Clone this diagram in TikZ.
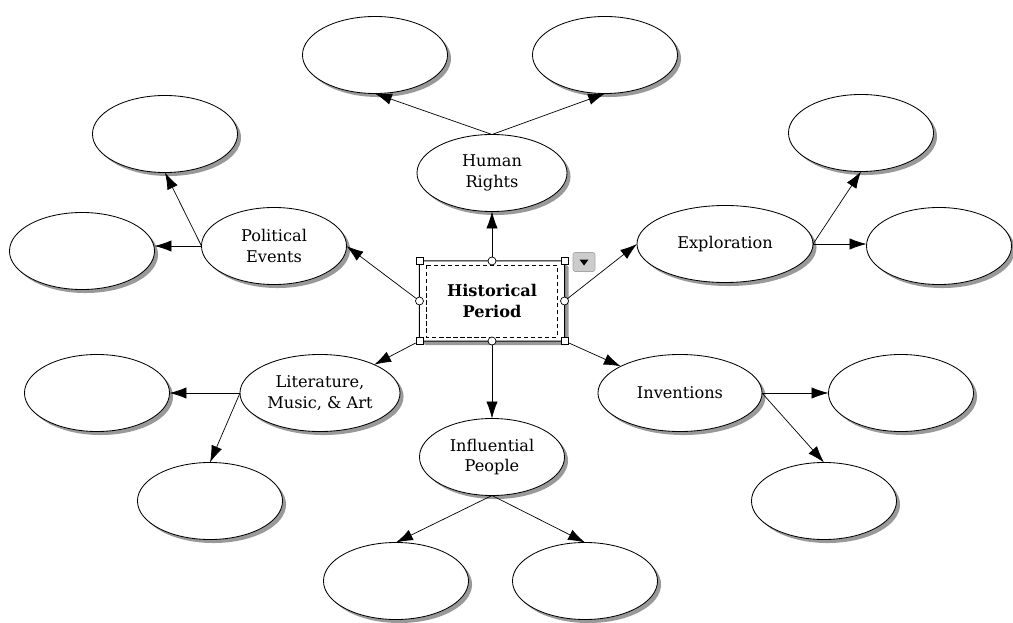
\documentclass[tikz,border=0pt]{standalone}
\usepackage{fontspec}
\setmainfont{DejaVu Serif}
\usetikzlibrary{shapes.geometric,shadows,arrows.meta}

\tikzset{
  oval/.style={ellipse, draw, line width=0.6pt, fill=white, inner sep=0pt, outer sep=0pt,
    minimum width=3.625cm, minimum height=1.925cm, align=center,
    font=\fontsize{11.5}{14.5}\selectfont,
    drop shadow={shadow xshift=2.5pt, shadow yshift=-2.5pt, fill=black!40, opacity=1}},
  topic/.style={rectangle, draw, line width=0.7pt, fill=white, rounded corners=2pt,
    minimum width=3.625cm, minimum height=2cm, align=center, outer sep=0pt,
    font=\fontsize{11.5}{14.5}\selectfont\bfseries,
    drop shadow={shadow xshift=3pt, shadow yshift=-3pt, fill=black!40, opacity=1}},
  sqhandle/.style={rectangle, draw, fill=white, line width=0.5pt, minimum size=0.17cm, inner sep=0pt},
  rdhandle/.style={circle, draw, fill=white, line width=0.5pt, minimum size=0.2cm, inner sep=0pt},
  menubtn/.style={rectangle, draw=black!35, fill=black!20, rounded corners=1.5pt,
    minimum width=0.55cm, minimum height=0.475cm, inner sep=0pt},
  link/.style={draw, line width=0.5pt, -{Latex[length=12pt,width=8pt]}}
}

\begin{document}
\begin{tikzpicture}[x=0.025cm, y=-0.025cm]
  \useasboundingbox (0,0) rectangle (1013,623);
  %%%%%%%%%%%%%%%%%%%%%%%%%%%%%%%%
  % centre topic with its handles
  \node[topic] (hp) at (492,301) {Historical\\Period};
  \draw[dashed, dash pattern=on 3pt off 2pt, line width=0.4pt]
    ([xshift=5pt,yshift=-3pt]hp.north west) rectangle ([xshift=-5pt,yshift=3pt]hp.south east);
  \node[sqhandle] (hnw) at (hp.north west) {};
  \node[sqhandle] (hne) at (hp.north east) {};
  \node[sqhandle] (hsw) at (hp.south west) {};
  \node[sqhandle] (hse) at (hp.south east) {};
  \node[rdhandle] (hn) at (hp.north) {};
  \node[rdhandle] (hs) at (hp.south) {};
  \node[rdhandle] (hw) at (hp.west) {};
  \node[rdhandle] (he) at (hp.east) {};
  \node[menubtn] (menu) at (584,262) {};
  \fill (menu.center) ++(-4.5,-2.5) -- ++(9,0) -- ++(-4.5,6) -- cycle;
  %%%%%%%%%%%%%%%%%%%%%%%%%%%%%%%%
  % main topics
  \node[oval, minimum width=3.75cm] (hr) at (492,173) {Human\\Rights};
  \node[oval] (pe) at (274,246) {Political\\Events};
  \node[oval, minimum width=4.4cm] (ex) at (725,244) {Exploration};
  \node[oval, minimum width=4cm] (lit) at (320,393) {Literature,\\Music, \& Art};
  \node[oval] (ip) at (492,457) {Influential\\People};
  \node[oval, minimum width=4.1cm] (inv) at (680,393) {Inventions};
  %%%%%%%%%%%%%%%%%%%%%%%%%%%%%%%%
  % empty ovals
  \node[oval] (hr-a) at (375,55) {};
  \node[oval] (hr-b) at (605,55) {};
  \node[oval] (pe-a) at (165,134) {};
  \node[oval] (pe-b) at (82,251) {};
  \node[oval] (ex-a) at (861,133) {};
  \node[oval] (ex-b) at (939,246) {};
  \node[oval] (lit-a) at (97,393) {};
  \node[oval] (lit-b) at (210,501) {};
  \node[oval] (ip-a) at (396,581) {};
  \node[oval] (ip-b) at (585,581) {};
  \node[oval] (inv-a) at (901,393) {};
  \node[oval] (inv-b) at (824,501) {};
  %%%%%%%%%%%%%%%%%%%%%%%%%%%%%%%%
  % connectors
  \draw[link] (hn) -- (hr);
  \draw[link] (hw) -- (pe.east);
  \draw[link] (he) -- (ex.west);
  \draw[link] (hsw) -- (lit);
  \draw[link] (hs) -- (ip);
  \draw[link] (hse) -- (inv);
  \draw[link] (hr.north) -- (hr-a.south);
  \draw[link] (hr.north) -- (hr-b.south);
  \draw[link] (pe.west) -- (pe-a.south);
  \draw[link] (pe.west) -- (pe-b.east |- pe.west);
  \draw[link] (ex.east) -- (ex-a.south);
  \draw[link] (ex.east) -- (ex-b.west |- ex.east);
  \draw[link] (lit.west) -- (lit-a.east);
  \draw[link] (lit.west) -- (lit-b.north);
  \draw[link] (ip.south) -- (ip-a.north);
  \draw[link] (ip.south) -- (ip-b.north);
  \draw[link] (inv.east) -- (inv-a.west);
  \draw[link] (inv.east) -- (inv-b.north);
\end{tikzpicture}
\end{document}
